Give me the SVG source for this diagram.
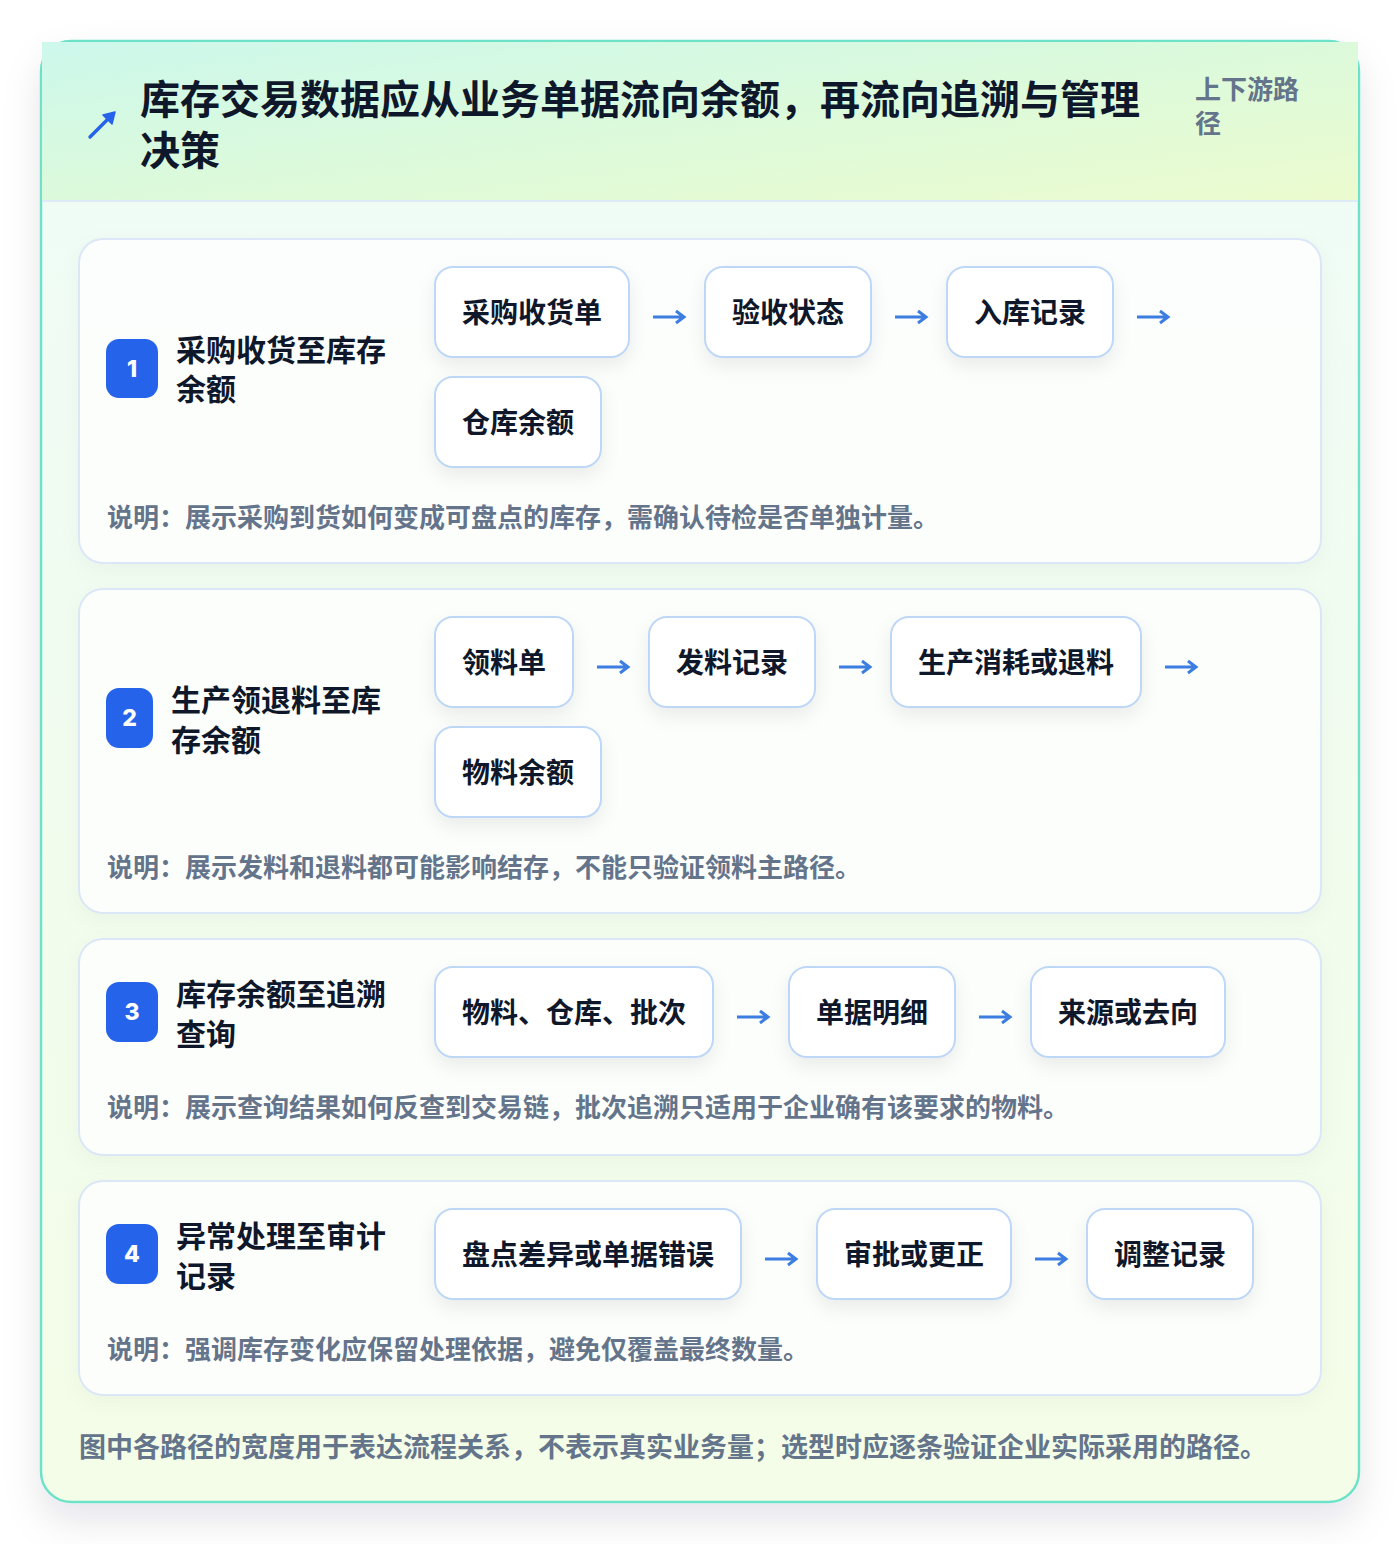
<svg xmlns="http://www.w3.org/2000/svg" width="1400" height="1544" viewBox="0 0 1400 1544">
<defs>
<linearGradient id="hdr" x1="0" y1="0" x2="1" y2="1">
<stop offset="0" stop-color="#cdf8ec"/>
<stop offset="0.5" stop-color="#dcfadb"/>
<stop offset="1" stop-color="#ecfbcf"/>
</linearGradient>
<linearGradient id="body" x1="0" y1="0" x2="0" y2="1">
<stop offset="0" stop-color="#effcf7"/>
<stop offset="1" stop-color="#f4fde7"/>
</linearGradient>
<filter id="cardShadow" x="-10%" y="-10%" width="120%" height="125%">
<feDropShadow dx="0" dy="18" stdDeviation="18" flood-color="#0f172a" flood-opacity="0.10"/>
</filter>
<filter id="nodeShadow" x="-20%" y="-30%" width="140%" height="170%">
<feDropShadow dx="0" dy="8" stdDeviation="9" flood-color="#0f172a" flood-opacity="0.07"/>
</filter>
<filter id="secShadow" x="-5%" y="-10%" width="110%" height="130%">
<feDropShadow dx="0" dy="6" stdDeviation="10" flood-color="#0f172a" flood-opacity="0.04"/>
</filter>
</defs>
<style>
text { font-family: "Noto Sans CJK SC", "Noto Sans", "Liberation Sans", sans-serif; font-weight: 700; }
.title { font-size: 40px; fill: #0f172a; }
.tag { font-size: 26px; fill: #64748b; }
.sec { fill: #ffffff; fill-opacity: 0.82; stroke: #dbe7f7; stroke-width: 2; }
.badge { fill: #2563eb; }
.num { font-family: Inter, "Liberation Sans", sans-serif; font-size: 23px; font-weight: 800; fill: #ffffff; text-anchor: middle; }
.stitle { font-size: 30px; fill: #0f172a; }
.node rect { fill: #ffffff; stroke: #bfd7f6; stroke-width: 2; }
.node text { font-size: 28px; fill: #0f172a; text-anchor: middle; }
.desc { font-size: 26px; fill: #64748b; }
.foot { font-size: 27px; fill: #64748b; }
.arr { fill: none; stroke: #3b7de0; stroke-width: 3; stroke-linecap: butt; stroke-linejoin: miter; }
</style>
<rect x="0" y="0" width="1400" height="1544" fill="#ffffff"/>
<g id="card">
<rect x="41" y="41" width="1318" height="1461" rx="30" fill="url(#body)" stroke="#6ee2c9" stroke-width="2.5" filter="url(#cardShadow)"/>
<rect x="42" y="42" width="1316" height="159" fill="url(#hdr)"/>
<line x1="42" y1="201" x2="1358" y2="201" stroke="#dcebf5" stroke-width="2"/>
</g>
<g id="header">
<path d="M90,137 L111,116" fill="none" stroke="#2563eb" stroke-width="3.4" stroke-linecap="round"/>
<path d="M115,112 L103,115 L112,124 Z" fill="#2563eb" stroke="#2563eb" stroke-width="1.5" stroke-linejoin="round"/>
<text class="title" x="140" y="114">库存交易数据应从业务单据流向余额，再流向追溯与管理</text>
<text class="title" x="140" y="165">决策</text>
<text class="tag" x="1195" y="99">上下游路</text>
<text class="tag" x="1195" y="133">径</text>
</g>

<g id="section-1">
<rect class="sec" x="79" y="239" width="1242" height="324" rx="24" filter="url(#secShadow)"/>
<rect class="badge" x="106" y="339" width="52" height="59" rx="13"/>
<text class="num" x="132" y="377">1</text>
<text class="stitle" x="176" y="361">采购收货至库存</text>
<text class="stitle" x="176" y="400">余额</text>
<text class="desc" x="107" y="527">说明：展示采购到货如何变成可盘点的库存，需确认待检是否单独计量。</text>
</g>
<g id="n1a" class="node"><rect x="435" y="267" width="194" height="90" rx="18" filter="url(#nodeShadow)"/><text x="532" y="323">采购收货单</text></g>
<g id="n1b" class="node"><rect x="705" y="267" width="166" height="90" rx="18" filter="url(#nodeShadow)"/><text x="788" y="323">验收状态</text></g>
<g id="n1c" class="node"><rect x="947" y="267" width="166" height="90" rx="18" filter="url(#nodeShadow)"/><text x="1030" y="323">入库记录</text></g>
<g id="n1d" class="node"><rect x="435" y="377" width="166" height="90" rx="18" filter="url(#nodeShadow)"/><text x="518" y="433">仓库余额</text></g>

<g id="section-2">
<rect class="sec" x="79" y="589" width="1242" height="324" rx="24" filter="url(#secShadow)"/>
<rect class="badge" x="106" y="688" width="47" height="60" rx="13"/>
<text class="num" x="129.5" y="726">2</text>
<text class="stitle" x="171" y="711">生产领退料至库</text>
<text class="stitle" x="171" y="751">存余额</text>
<text class="desc" x="107" y="877">说明：展示发料和退料都可能影响结存，不能只验证领料主路径。</text>
</g>
<g id="n2a" class="node"><rect x="435" y="617" width="138" height="90" rx="18" filter="url(#nodeShadow)"/><text x="504" y="673">领料单</text></g>
<g id="n2b" class="node"><rect x="649" y="617" width="166" height="90" rx="18" filter="url(#nodeShadow)"/><text x="732" y="673">发料记录</text></g>
<g id="n2c" class="node"><rect x="891" y="617" width="250" height="90" rx="18" filter="url(#nodeShadow)"/><text x="1016" y="673">生产消耗或退料</text></g>
<g id="n2d" class="node"><rect x="435" y="727" width="166" height="90" rx="18" filter="url(#nodeShadow)"/><text x="518" y="783">物料余额</text></g>

<g id="section-3">
<rect class="sec" x="79" y="939" width="1242" height="216" rx="24" filter="url(#secShadow)"/>
<rect class="badge" x="106" y="982" width="52" height="60" rx="13"/>
<text class="num" x="132" y="1020">3</text>
<text class="stitle" x="176" y="1005">库存余额至追溯</text>
<text class="stitle" x="176" y="1045">查询</text>
<text class="desc" x="107" y="1117">说明：展示查询结果如何反查到交易链，批次追溯只适用于企业确有该要求的物料。</text>
</g>
<g id="n3a" class="node"><rect x="435" y="967" width="278" height="90" rx="18" filter="url(#nodeShadow)"/><text x="574" y="1023">物料、仓库、批次</text></g>
<g id="n3b" class="node"><rect x="789" y="967" width="166" height="90" rx="18" filter="url(#nodeShadow)"/><text x="872" y="1023">单据明细</text></g>
<g id="n3c" class="node"><rect x="1031" y="967" width="194" height="90" rx="18" filter="url(#nodeShadow)"/><text x="1128" y="1023">来源或去向</text></g>

<g id="section-4">
<rect class="sec" x="79" y="1181" width="1242" height="214" rx="24" filter="url(#secShadow)"/>
<rect class="badge" x="106" y="1224" width="52" height="60" rx="13"/>
<text class="num" x="132" y="1262">4</text>
<text class="stitle" x="176" y="1247">异常处理至审计</text>
<text class="stitle" x="176" y="1287">记录</text>
<text class="desc" x="107" y="1359">说明：强调库存变化应保留处理依据，避免仅覆盖最终数量。</text>
</g>
<g id="n4a" class="node"><rect x="435" y="1209" width="306" height="90" rx="18" filter="url(#nodeShadow)"/><text x="588" y="1265">盘点差异或单据错误</text></g>
<g id="n4b" class="node"><rect x="817" y="1209" width="194" height="90" rx="18" filter="url(#nodeShadow)"/><text x="914" y="1265">审批或更正</text></g>
<g id="n4c" class="node"><rect x="1087" y="1209" width="166" height="90" rx="18" filter="url(#nodeShadow)"/><text x="1170" y="1265">调整记录</text></g>

<g id="connectors" class="arr">
<path d="M653,317 H683 M676,311 L684,317 L676,323"/>
<path d="M895,317 H925 M918,311 L926,317 L918,323"/>
<path d="M1137,317 H1167 M1160,311 L1168,317 L1160,323"/>
<path d="M597,667 H627 M620,661 L628,667 L620,673"/>
<path d="M839,667 H869 M862,661 L870,667 L862,673"/>
<path d="M1165,667 H1195 M1188,661 L1196,667 L1188,673"/>
<path d="M737,1017 H767 M760,1011 L768,1017 L760,1023"/>
<path d="M979,1017 H1009 M1002,1011 L1010,1017 L1002,1023"/>
<path d="M765,1259 H795 M788,1253 L796,1259 L788,1265"/>
<path d="M1035,1259 H1065 M1058,1253 L1066,1259 L1058,1265"/>
</g>

<text class="foot" x="79" y="1457">图中各路径的宽度用于表达流程关系，不表示真实业务量；选型时应逐条验证企业实际采用的路径。</text>
</svg>
